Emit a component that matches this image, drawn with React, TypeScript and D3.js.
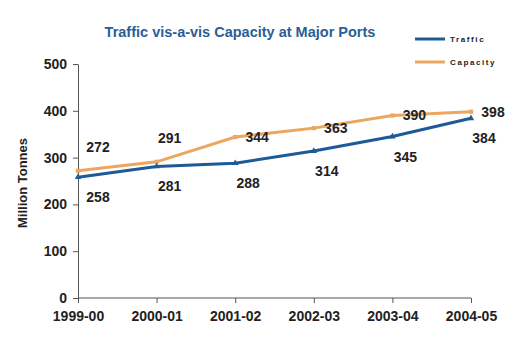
import React, { useEffect, useRef } from 'react';
import * as d3 from 'd3';

const years = ['1999-00', '2000-01', '2001-02', '2002-03', '2003-04', '2004-05'];
const traffic = [258, 281, 288, 314, 345, 384];
const capacity = [272, 291, 344, 363, 390, 398];
const yTicks = [0, 100, 200, 300, 400, 500];
// where each value label sits relative to its point
const trafficPlace = ['below', 'below', 'below', 'below', 'below', 'below'];
const capacityPlace = ['above', 'above', 'right', 'right', 'right', 'right'];

const W = 520;
const H = 351;
const FONT = '"Liberation Sans", Arial, sans-serif';
const blue = '#1d5a97';
const orange = '#eba660';

const App = () => {
	const ref = useRef<SVGSVGElement>(null);

	useEffect(() => {
		const svg = d3.select(ref.current);
		svg.selectAll('*').remove();

		const m = { l: 78, r: 49, t: 64, b: 53 };

		const x = d3
			.scalePoint<string>()
			.domain(years)
			.range([m.l, W - m.r]);
		const y = d3
			.scaleLinear()
			.domain([0, 500])
			.range([H - m.b, m.t]);

		svg.append('rect').attr('width', W).attr('height', H).attr('fill', '#fff');

		// title
		svg.append('text')
			.attr('x', 240)
			.attr('y', 37)
			.attr('text-anchor', 'middle')
			.attr('font-family', FONT)
			.attr('font-weight', 'bold')
			.attr('font-size', 14.5)
			.attr('fill', '#2b5e96')
			.text('Traffic vis-a-vis Capacity at Major Ports');

		// axes
		const yAxis = d3
			.axisLeft(y)
			.tickValues(yTicks)
			.tickSize(5)
			.tickPadding(6)
			.tickSizeOuter(0);
		const yg = svg.append('g').attr('transform', `translate(${m.l},0)`).call(yAxis);

		const xAxis = d3.axisBottom(x).tickSize(5).tickPadding(8).tickSizeOuter(0);
		const xg = svg
			.append('g')
			.attr('transform', `translate(0,${H - m.b})`)
			.call(xAxis);
		xg.select('.domain').attr('d', `M${m.l},0H${W - m.r}`);

		[yg, xg].forEach(g => {
			g.selectAll('.domain, line').attr('stroke', '#555').attr('stroke-width', 1);
			g.selectAll('text')
				.attr('font-family', FONT)
				.attr('font-weight', 'bold')
				.attr('font-size', 14)
				.attr('fill', '#222');
		});

		svg.append('text')
			.attr('transform', `translate(27,${(y(0) + y(500)) / 2 + 2}) rotate(-90)`)
			.attr('text-anchor', 'middle')
			.attr('font-family', FONT)
			.attr('font-weight', 'bold')
			.attr('font-size', 13)
			.attr('fill', '#222')
			.text('Million Tonnes');

		const line = d3
			.line<number>()
			.x((d, i) => x(years[i]) as number)
			.y(d => y(d));

		const series = [
			{ name: 'Capacity', values: capacity, color: orange, place: capacityPlace, marker: d3.symbolSquare },
			{ name: 'Traffic', values: traffic, color: blue, place: trafficPlace, marker: d3.symbolTriangle },
		];

		series.forEach(s => {
			svg.append('path')
				.datum(s.values)
				.attr('d', line)
				.attr('fill', 'none')
				.attr('stroke', s.color)
				.attr('stroke-width', 3);

			svg.selectAll(null)
				.data(s.values)
				.join('path')
				.attr('d', d3.symbol().type(s.marker).size(18))
				.attr('transform', (d, i) => `translate(${x(years[i])},${y(d)})`)
				.attr('fill', s.color);

			svg.selectAll(null)
				.data(s.values)
				.join('text')
				.attr('x', (d, i) => (x(years[i]) as number) + (s.place[i] === 'right' ? 22 : i === 0 ? 20 : 13))
				.attr('y', (d, i) => {
					if (s.place[i] === 'above') return y(d) - 19;
					if (s.place[i] === 'right') return y(d) + 5;
					return y(d) + 25;
				})
				.attr('text-anchor', 'middle')
				.attr('font-family', FONT)
				.attr('font-weight', 'bold')
				.attr('font-size', 14)
				.attr('fill', '#222')
				.text(d => d);
		});

		// legend
		const legend = [
			{ name: 'Traffic', color: blue },
			{ name: 'Capacity', color: orange },
		];
		const lg = svg
			.selectAll('.legend')
			.data(legend)
			.join('g')
			.attr('class', 'legend')
			.attr('transform', (d, i) => `translate(415,${39 + i * 23})`);
		lg.append('line')
			.attr('x1', 0)
			.attr('x2', 30)
			.attr('stroke', d => d.color)
			.attr('stroke-width', 3);
		lg.append('text')
			.attr('x', 35)
			.attr('y', 3)
			.attr('font-family', FONT)
			.attr('font-weight', 'bold')
			.attr('font-size', 8)
			.attr('letter-spacing', 1.6)
			.attr('fill', '#222')
			.text(d => d.name);
	}, []);

	return (
		<div style={{ margin: -8 }}>
			<svg ref={ref} width={W} height={H} style={{ display: 'block' }} />
		</div>
	);
};

export default App;
